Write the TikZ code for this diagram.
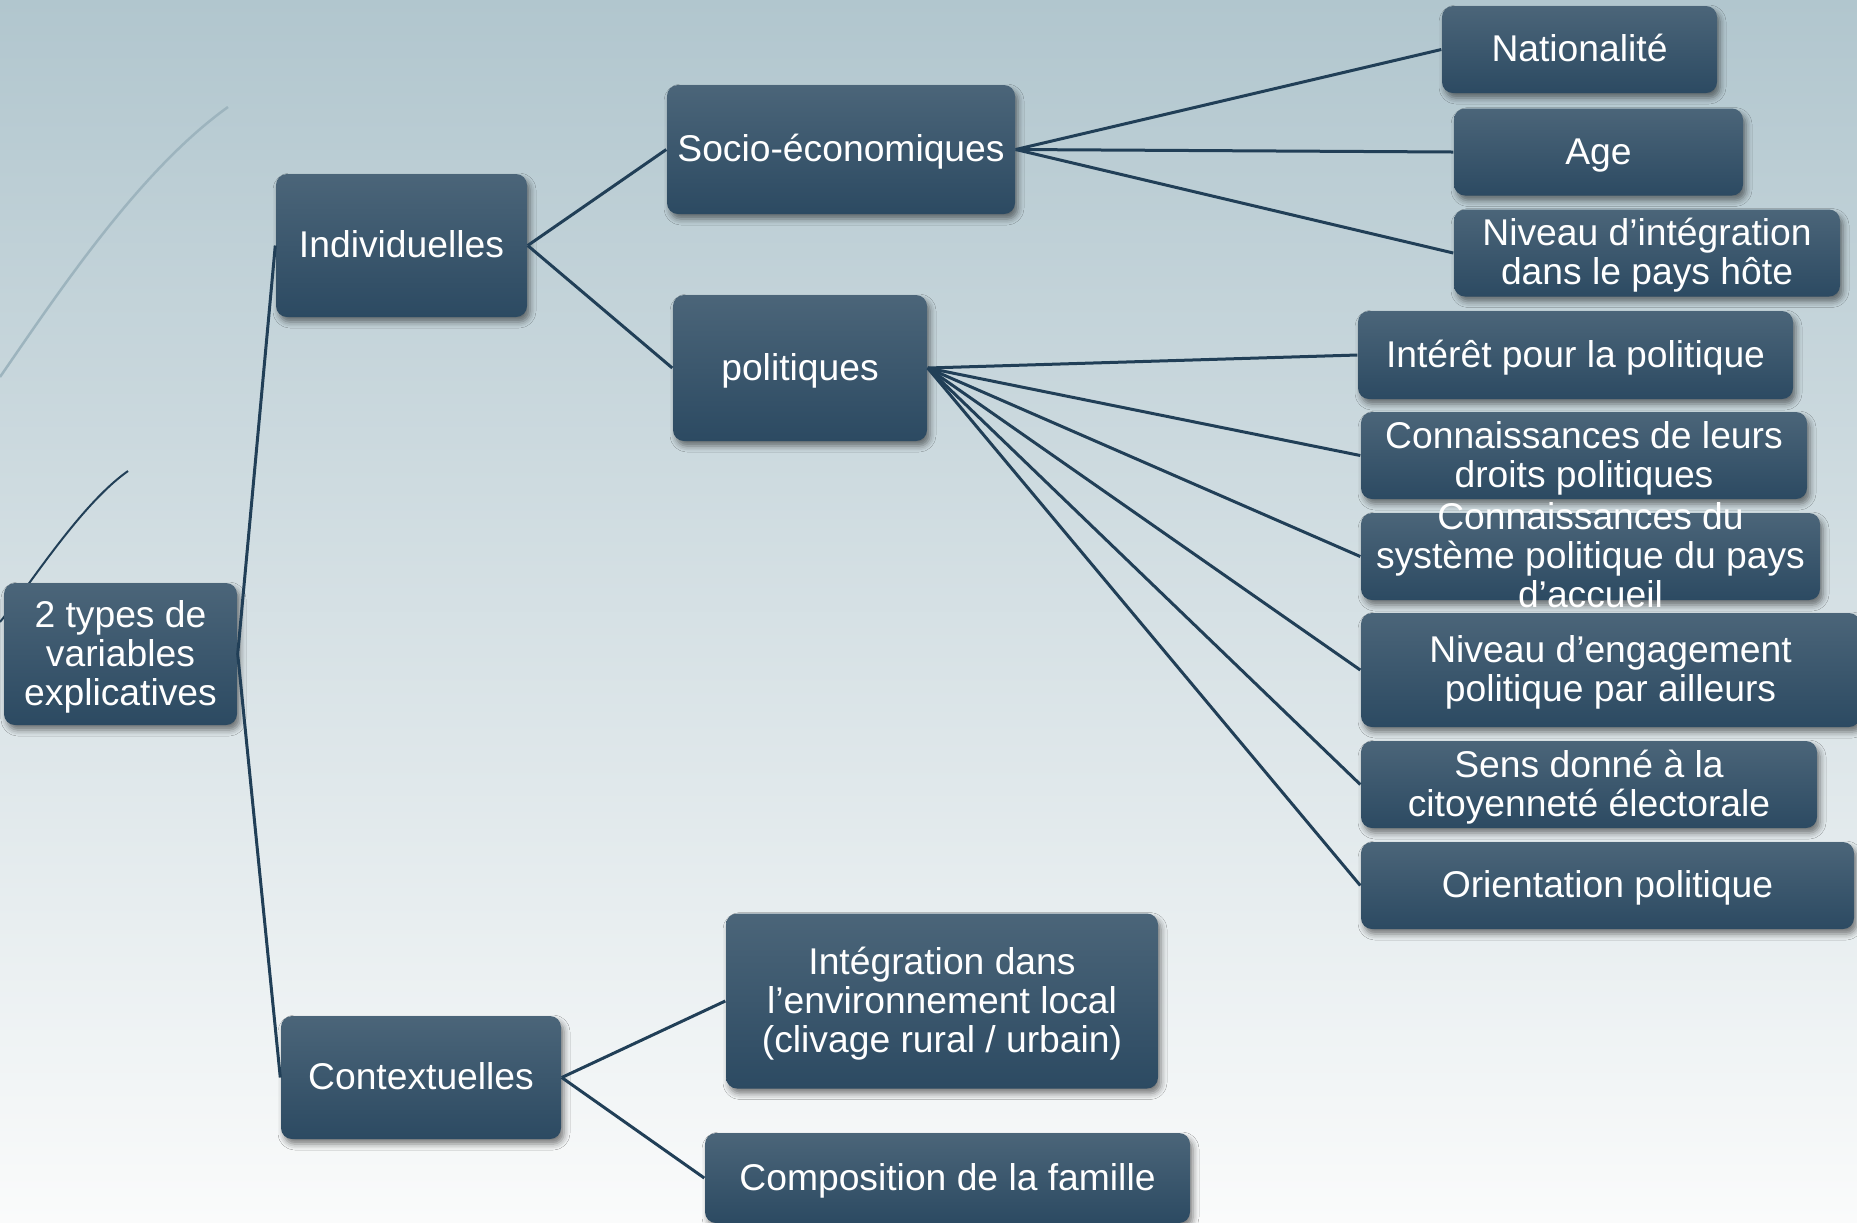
\documentclass[tikz,border=0pt]{standalone}
\usepackage{fontspec}
\setmainfont{Liberation Sans}
\usetikzlibrary{shadows.blur}
\definecolor{boxtop}{HTML}{4B6579}
\definecolor{boxbot}{HTML}{2C4A62}
\definecolor{linecol}{HTML}{213F57}
\definecolor{bgtop}{HTML}{B1C6CE}
\definecolor{bgbot}{HTML}{FAFBFB}
\definecolor{arccol}{HTML}{9DB4BE}
\begin{document}
\begin{tikzpicture}[x=0.1mm,y=-0.1mm,
    box/.style={rectangle,rounded corners=1.1mm,top color=boxtop,bottom color=boxbot,
      blur shadow={shadow xshift=0.3mm,shadow yshift=-0.5mm,shadow blur radius=0.6mm,shadow opacity=50},
      text=white,align=center,inner xsep=1mm,inner ysep=0pt,
      font=\fontsize{10.6pt}{11.1pt}\selectfont},
    boxtext/.style={text=white,align=center,inner sep=0pt,font=\fontsize{10.6pt}{11.1pt}\selectfont},
    lone/.style={text height=9.2pt,text depth=2.25pt},
    ltwo/.style={text height=20.3pt,text depth=2.25pt},
    lthree/.style={text height=31.4pt,text depth=2.25pt},
    link/.style={draw=linecol,line width=0.3mm}]
    \useasboundingbox (0,0) rectangle (1857,1222);
    \shade[top color=bgtop,bottom color=bgbot] (0,0) rectangle (1857,1222);
    % background arcs
    \draw[arccol,line width=0.25mm] (0,377) .. controls (60,290) and (140,170) .. (228,107);
    \draw[linecol,line width=0.2mm] (0,622) .. controls (30,585) and (80,505) .. (128,471);
    % boxes
    \node[box,lthree,minimum width=23.3mm,minimum height=14.2mm] (root) at (120.5,654) {2 types de\\variables\\explicatives};
    \node[box,lone,minimum width=25.1mm,minimum height=14.3mm] (indiv) at (401.5,245.5) {Individuelles};
    \node[box,lone,minimum width=28.0mm,minimum height=12.3mm] (context) at (421,1077.5) {Contextuelles};
    \node[box,lone,minimum width=34.8mm,minimum height=12.9mm] (socio) at (841,149.5) {Socio-économiques};
    \node[box,lone,minimum width=25.4mm,minimum height=14.6mm] (polit) at (800,368) {politiques};
    \node[box,lthree,minimum width=43.2mm,minimum height=17.5mm] (integ) at (942,1001) {Intégration dans\\l’environnement local\\(clivage rural / urbain)};
    \node[box,lone,minimum width=48.5mm,minimum height=9.0mm] (famille) at (947.5,1178) {Composition de la famille};
    \node[box,lone,minimum width=27.5mm,minimum height=8.7mm] (nation) at (1579.5,49.5) {Nationalité};
    \node[box,lone,minimum width=28.9mm,minimum height=8.7mm] (age) at (1598.5,152) {Age};
    \node[box,ltwo,minimum width=38.6mm,minimum height=8.7mm] (hote) at (1647,253) {Niveau d’intégration\\dans le pays hôte};
    \node[box,lone,minimum width=43.5mm,minimum height=8.8mm] (interet) at (1575.5,355) {Intérêt pour la politique};
    \node[box,ltwo,minimum width=44.6mm,minimum height=8.7mm] (droits) at (1584,455.5) {Connaissances de leurs\\droits politiques};
    \node[box,minimum width=45.9mm,minimum height=8.7mm,
      label={[boxtext,lthree]center:{Connaissances du\\système politique du pays\\d’accueil}}] (systeme) at (1590.5,556.5) {};
    \node[box,ltwo,minimum width=49.9mm,minimum height=11.4mm] (engage) at (1610.5,670) {Niveau d’engagement\\politique par ailleurs};
    \node[box,ltwo,minimum width=45.6mm,minimum height=8.7mm] (sens) at (1589,784.5) {Sens donné à la\\citoyenneté électorale};
    \node[box,lone,minimum width=49.3mm,minimum height=8.7mm] (orient) at (1607.5,885.5) {Orientation politique};
    % links
    \path[link] (root.east) edge (indiv.west);
    \path[link] (root.east) edge (context.west);
    \path[link] (indiv.east) edge (socio.west);
    \path[link] (indiv.east) edge (polit.west);
    \path[link] (context.east) edge (integ.west);
    \path[link] (context.east) edge (famille.west);
    \path[link] (socio.east) edge (nation.west);
    \path[link] (socio.east) edge (age.west);
    \path[link] (socio.east) edge (hote.west);
    \path[link] (polit.east) edge (interet.west);
    \path[link] (polit.east) edge (droits.west);
    \path[link] (polit.east) edge (systeme.west);
    \path[link] (polit.east) edge (engage.west);
    \path[link] (polit.east) edge (sens.west);
    \path[link] (polit.east) edge (orient.west);
\end{tikzpicture}
\end{document}
